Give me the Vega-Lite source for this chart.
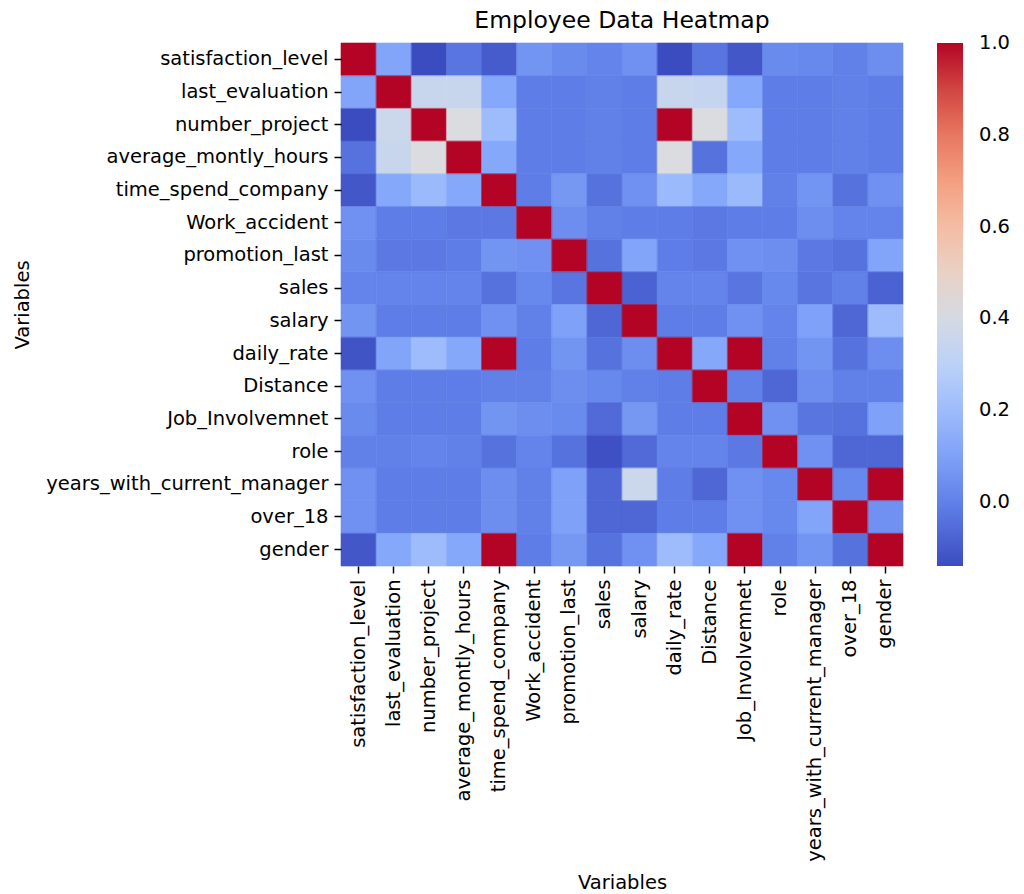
{
  "$schema": "https://vega.github.io/schema/vega-lite/v6.json",
  "width": 562,
  "height": 523,
  "autosize": {"type": "none"},
  "padding": {"left": 341, "top": 43, "right": 121, "bottom": 328},
  "background": "white",
  "title": {
    "text": "Employee Data Heatmap",
    "font": "DejaVu Sans",
    "fontSize": 23.5,
    "fontWeight": "normal",
    "color": "#000000",
    "anchor": "middle",
    "offset": 10
  },
  "datasets": {
    "corr": [
      {"row":"satisfaction_level","col":"satisfaction_level","corr":1},{"row":"satisfaction_level","col":"last_evaluation","corr":0.11},{"row":"satisfaction_level","col":"number_project","corr":-0.14},{"row":"satisfaction_level","col":"average_montly_hours","corr":-0.03},{"row":"satisfaction_level","col":"time_spend_company","corr":-0.1},{"row":"satisfaction_level","col":"Work_accident","corr":0.06},{"row":"satisfaction_level","col":"promotion_last","corr":0.03},{"row":"satisfaction_level","col":"sales","corr":0.01},{"row":"satisfaction_level","col":"salary","corr":0.05},{"row":"satisfaction_level","col":"daily_rate","corr":-0.14},{"row":"satisfaction_level","col":"Distance","corr":-0.03},{"row":"satisfaction_level","col":"Job_Involvemnet","corr":-0.11},{"row":"satisfaction_level","col":"role","corr":0.03},{"row":"satisfaction_level","col":"years_with_current_manager","corr":0.02},{"row":"satisfaction_level","col":"over_18","corr":0.0},{"row":"satisfaction_level","col":"gender","corr":0.04},
      {"row":"last_evaluation","col":"satisfaction_level","corr":0.11},{"row":"last_evaluation","col":"last_evaluation","corr":1},{"row":"last_evaluation","col":"number_project","corr":0.35},{"row":"last_evaluation","col":"average_montly_hours","corr":0.35},{"row":"last_evaluation","col":"time_spend_company","corr":0.12},{"row":"last_evaluation","col":"Work_accident","corr":-0.01},{"row":"last_evaluation","col":"promotion_last","corr":-0.01},{"row":"last_evaluation","col":"sales","corr":0.0},{"row":"last_evaluation","col":"salary","corr":-0.01},{"row":"last_evaluation","col":"daily_rate","corr":0.35},{"row":"last_evaluation","col":"Distance","corr":0.34},{"row":"last_evaluation","col":"Job_Involvemnet","corr":0.12},{"row":"last_evaluation","col":"role","corr":-0.01},{"row":"last_evaluation","col":"years_with_current_manager","corr":-0.01},{"row":"last_evaluation","col":"over_18","corr":0.0},{"row":"last_evaluation","col":"gender","corr":-0.01},
      {"row":"number_project","col":"satisfaction_level","corr":-0.14},{"row":"number_project","col":"last_evaluation","corr":0.36},{"row":"number_project","col":"number_project","corr":1},{"row":"number_project","col":"average_montly_hours","corr":0.42},{"row":"number_project","col":"time_spend_company","corr":0.2},{"row":"number_project","col":"Work_accident","corr":-0.01},{"row":"number_project","col":"promotion_last","corr":-0.01},{"row":"number_project","col":"sales","corr":0.0},{"row":"number_project","col":"salary","corr":-0.01},{"row":"number_project","col":"daily_rate","corr":1},{"row":"number_project","col":"Distance","corr":0.42},{"row":"number_project","col":"Job_Involvemnet","corr":0.2},{"row":"number_project","col":"role","corr":-0.01},{"row":"number_project","col":"years_with_current_manager","corr":-0.01},{"row":"number_project","col":"over_18","corr":0.0},{"row":"number_project","col":"gender","corr":-0.01},
      {"row":"average_montly_hours","col":"satisfaction_level","corr":-0.04},{"row":"average_montly_hours","col":"last_evaluation","corr":0.35},{"row":"average_montly_hours","col":"number_project","corr":0.42},{"row":"average_montly_hours","col":"average_montly_hours","corr":1},{"row":"average_montly_hours","col":"time_spend_company","corr":0.12},{"row":"average_montly_hours","col":"Work_accident","corr":-0.01},{"row":"average_montly_hours","col":"promotion_last","corr":-0.01},{"row":"average_montly_hours","col":"sales","corr":0.0},{"row":"average_montly_hours","col":"salary","corr":-0.01},{"row":"average_montly_hours","col":"daily_rate","corr":0.42},{"row":"average_montly_hours","col":"Distance","corr":-0.04},{"row":"average_montly_hours","col":"Job_Involvemnet","corr":0.12},{"row":"average_montly_hours","col":"role","corr":-0.01},{"row":"average_montly_hours","col":"years_with_current_manager","corr":-0.01},{"row":"average_montly_hours","col":"over_18","corr":0.0},{"row":"average_montly_hours","col":"gender","corr":-0.01},
      {"row":"time_spend_company","col":"satisfaction_level","corr":-0.11},{"row":"time_spend_company","col":"last_evaluation","corr":0.12},{"row":"time_spend_company","col":"number_project","corr":0.19},{"row":"time_spend_company","col":"average_montly_hours","corr":0.12},{"row":"time_spend_company","col":"time_spend_company","corr":1},{"row":"time_spend_company","col":"Work_accident","corr":-0.01},{"row":"time_spend_company","col":"promotion_last","corr":0.07},{"row":"time_spend_company","col":"sales","corr":-0.04},{"row":"time_spend_company","col":"salary","corr":0.05},{"row":"time_spend_company","col":"daily_rate","corr":0.19},{"row":"time_spend_company","col":"Distance","corr":0.12},{"row":"time_spend_company","col":"Job_Involvemnet","corr":0.19},{"row":"time_spend_company","col":"role","corr":0.0},{"row":"time_spend_company","col":"years_with_current_manager","corr":0.06},{"row":"time_spend_company","col":"over_18","corr":-0.04},{"row":"time_spend_company","col":"gender","corr":0.05},
      {"row":"Work_accident","col":"satisfaction_level","corr":0.05},{"row":"Work_accident","col":"last_evaluation","corr":-0.01},{"row":"Work_accident","col":"number_project","corr":-0.01},{"row":"Work_accident","col":"average_montly_hours","corr":-0.02},{"row":"Work_accident","col":"time_spend_company","corr":-0.02},{"row":"Work_accident","col":"Work_accident","corr":1},{"row":"Work_accident","col":"promotion_last","corr":0.04},{"row":"Work_accident","col":"sales","corr":0.0},{"row":"Work_accident","col":"salary","corr":-0.01},{"row":"Work_accident","col":"daily_rate","corr":-0.01},{"row":"Work_accident","col":"Distance","corr":-0.02},{"row":"Work_accident","col":"Job_Involvemnet","corr":-0.01},{"row":"Work_accident","col":"role","corr":-0.01},{"row":"Work_accident","col":"years_with_current_manager","corr":0.04},{"row":"Work_accident","col":"over_18","corr":0.01},{"row":"Work_accident","col":"gender","corr":0.01},
      {"row":"promotion_last","col":"satisfaction_level","corr":0.03},{"row":"promotion_last","col":"last_evaluation","corr":-0.02},{"row":"promotion_last","col":"number_project","corr":-0.02},{"row":"promotion_last","col":"average_montly_hours","corr":-0.01},{"row":"promotion_last","col":"time_spend_company","corr":0.06},{"row":"promotion_last","col":"Work_accident","corr":0.05},{"row":"promotion_last","col":"promotion_last","corr":1},{"row":"promotion_last","col":"sales","corr":-0.04},{"row":"promotion_last","col":"salary","corr":0.11},{"row":"promotion_last","col":"daily_rate","corr":-0.01},{"row":"promotion_last","col":"Distance","corr":-0.02},{"row":"promotion_last","col":"Job_Involvemnet","corr":0.05},{"row":"promotion_last","col":"role","corr":0.04},{"row":"promotion_last","col":"years_with_current_manager","corr":-0.02},{"row":"promotion_last","col":"over_18","corr":-0.04},{"row":"promotion_last","col":"gender","corr":0.11},
      {"row":"sales","col":"satisfaction_level","corr":0.01},{"row":"sales","col":"last_evaluation","corr":0.01},{"row":"sales","col":"number_project","corr":0.01},{"row":"sales","col":"average_montly_hours","corr":0.01},{"row":"sales","col":"time_spend_company","corr":-0.04},{"row":"sales","col":"Work_accident","corr":0.02},{"row":"sales","col":"promotion_last","corr":-0.03},{"row":"sales","col":"sales","corr":1},{"row":"sales","col":"salary","corr":-0.08},{"row":"sales","col":"daily_rate","corr":0.01},{"row":"sales","col":"Distance","corr":0.01},{"row":"sales","col":"Job_Involvemnet","corr":-0.03},{"row":"sales","col":"role","corr":0.02},{"row":"sales","col":"years_with_current_manager","corr":-0.03},{"row":"sales","col":"over_18","corr":0.0},{"row":"sales","col":"gender","corr":-0.08},
      {"row":"salary","col":"satisfaction_level","corr":0.06},{"row":"salary","col":"last_evaluation","corr":-0.01},{"row":"salary","col":"number_project","corr":-0.01},{"row":"salary","col":"average_montly_hours","corr":-0.01},{"row":"salary","col":"time_spend_company","corr":0.05},{"row":"salary","col":"Work_accident","corr":0.0},{"row":"salary","col":"promotion_last","corr":0.1},{"row":"salary","col":"sales","corr":-0.07},{"row":"salary","col":"salary","corr":1},{"row":"salary","col":"daily_rate","corr":-0.01},{"row":"salary","col":"Distance","corr":-0.01},{"row":"salary","col":"Job_Involvemnet","corr":0.05},{"row":"salary","col":"role","corr":0.01},{"row":"salary","col":"years_with_current_manager","corr":0.1},{"row":"salary","col":"over_18","corr":-0.07},{"row":"salary","col":"gender","corr":0.2},
      {"row":"daily_rate","col":"satisfaction_level","corr":-0.12},{"row":"daily_rate","col":"last_evaluation","corr":0.11},{"row":"daily_rate","col":"number_project","corr":0.2},{"row":"daily_rate","col":"average_montly_hours","corr":0.12},{"row":"daily_rate","col":"time_spend_company","corr":1},{"row":"daily_rate","col":"Work_accident","corr":-0.01},{"row":"daily_rate","col":"promotion_last","corr":0.06},{"row":"daily_rate","col":"sales","corr":-0.04},{"row":"daily_rate","col":"salary","corr":0.04},{"row":"daily_rate","col":"daily_rate","corr":1},{"row":"daily_rate","col":"Distance","corr":0.12},{"row":"daily_rate","col":"Job_Involvemnet","corr":1},{"row":"daily_rate","col":"role","corr":0.0},{"row":"daily_rate","col":"years_with_current_manager","corr":0.06},{"row":"daily_rate","col":"over_18","corr":-0.04},{"row":"daily_rate","col":"gender","corr":0.04},
      {"row":"Distance","col":"satisfaction_level","corr":0.05},{"row":"Distance","col":"last_evaluation","corr":-0.01},{"row":"Distance","col":"number_project","corr":-0.01},{"row":"Distance","col":"average_montly_hours","corr":-0.01},{"row":"Distance","col":"time_spend_company","corr":0.0},{"row":"Distance","col":"Work_accident","corr":0.0},{"row":"Distance","col":"promotion_last","corr":0.04},{"row":"Distance","col":"sales","corr":0.02},{"row":"Distance","col":"salary","corr":0.0},{"row":"Distance","col":"daily_rate","corr":-0.01},{"row":"Distance","col":"Distance","corr":1},{"row":"Distance","col":"Job_Involvemnet","corr":0.0},{"row":"Distance","col":"role","corr":-0.07},{"row":"Distance","col":"years_with_current_manager","corr":0.04},{"row":"Distance","col":"over_18","corr":0.0},{"row":"Distance","col":"gender","corr":0.0},
      {"row":"Job_Involvemnet","col":"satisfaction_level","corr":0.03},{"row":"Job_Involvemnet","col":"last_evaluation","corr":-0.01},{"row":"Job_Involvemnet","col":"number_project","corr":-0.01},{"row":"Job_Involvemnet","col":"average_montly_hours","corr":-0.01},{"row":"Job_Involvemnet","col":"time_spend_company","corr":0.06},{"row":"Job_Involvemnet","col":"Work_accident","corr":0.04},{"row":"Job_Involvemnet","col":"promotion_last","corr":0.03},{"row":"Job_Involvemnet","col":"sales","corr":-0.06},{"row":"Job_Involvemnet","col":"salary","corr":0.07},{"row":"Job_Involvemnet","col":"daily_rate","corr":-0.01},{"row":"Job_Involvemnet","col":"Distance","corr":-0.01},{"row":"Job_Involvemnet","col":"Job_Involvemnet","corr":1},{"row":"Job_Involvemnet","col":"role","corr":0.05},{"row":"Job_Involvemnet","col":"years_with_current_manager","corr":-0.03},{"row":"Job_Involvemnet","col":"over_18","corr":-0.04},{"row":"Job_Involvemnet","col":"gender","corr":0.1},
      {"row":"role","col":"satisfaction_level","corr":0.0},{"row":"role","col":"last_evaluation","corr":0.0},{"row":"role","col":"number_project","corr":0.01},{"row":"role","col":"average_montly_hours","corr":0.0},{"row":"role","col":"time_spend_company","corr":-0.04},{"row":"role","col":"Work_accident","corr":0.01},{"row":"role","col":"promotion_last","corr":-0.04},{"row":"role","col":"sales","corr":-0.13},{"row":"role","col":"salary","corr":-0.06},{"row":"role","col":"daily_rate","corr":0.01},{"row":"role","col":"Distance","corr":0.01},{"row":"role","col":"Job_Involvemnet","corr":-0.02},{"row":"role","col":"role","corr":1},{"row":"role","col":"years_with_current_manager","corr":0.05},{"row":"role","col":"over_18","corr":-0.07},{"row":"role","col":"gender","corr":-0.07},
      {"row":"years_with_current_manager","col":"satisfaction_level","corr":0.05},{"row":"years_with_current_manager","col":"last_evaluation","corr":-0.01},{"row":"years_with_current_manager","col":"number_project","corr":-0.01},{"row":"years_with_current_manager","col":"average_montly_hours","corr":-0.01},{"row":"years_with_current_manager","col":"time_spend_company","corr":0.04},{"row":"years_with_current_manager","col":"Work_accident","corr":0.0},{"row":"years_with_current_manager","col":"promotion_last","corr":0.1},{"row":"years_with_current_manager","col":"sales","corr":-0.07},{"row":"years_with_current_manager","col":"salary","corr":0.36},{"row":"years_with_current_manager","col":"daily_rate","corr":-0.01},{"row":"years_with_current_manager","col":"Distance","corr":-0.07},{"row":"years_with_current_manager","col":"Job_Involvemnet","corr":0.05},{"row":"years_with_current_manager","col":"role","corr":0.02},{"row":"years_with_current_manager","col":"years_with_current_manager","corr":1},{"row":"years_with_current_manager","col":"over_18","corr":0.02},{"row":"years_with_current_manager","col":"gender","corr":1},
      {"row":"over_18","col":"satisfaction_level","corr":0.05},{"row":"over_18","col":"last_evaluation","corr":-0.01},{"row":"over_18","col":"number_project","corr":-0.01},{"row":"over_18","col":"average_montly_hours","corr":-0.01},{"row":"over_18","col":"time_spend_company","corr":0.04},{"row":"over_18","col":"Work_accident","corr":0.0},{"row":"over_18","col":"promotion_last","corr":0.1},{"row":"over_18","col":"sales","corr":-0.07},{"row":"over_18","col":"salary","corr":-0.07},{"row":"over_18","col":"daily_rate","corr":-0.01},{"row":"over_18","col":"Distance","corr":-0.01},{"row":"over_18","col":"Job_Involvemnet","corr":0.05},{"row":"over_18","col":"role","corr":0.02},{"row":"over_18","col":"years_with_current_manager","corr":0.11},{"row":"over_18","col":"over_18","corr":1},{"row":"over_18","col":"gender","corr":0.05},
      {"row":"gender","col":"satisfaction_level","corr":-0.11},{"row":"gender","col":"last_evaluation","corr":0.12},{"row":"gender","col":"number_project","corr":0.2},{"row":"gender","col":"average_montly_hours","corr":0.12},{"row":"gender","col":"time_spend_company","corr":1},{"row":"gender","col":"Work_accident","corr":-0.01},{"row":"gender","col":"promotion_last","corr":0.07},{"row":"gender","col":"sales","corr":-0.04},{"row":"gender","col":"salary","corr":0.05},{"row":"gender","col":"daily_rate","corr":0.2},{"row":"gender","col":"Distance","corr":0.12},{"row":"gender","col":"Job_Involvemnet","corr":1},{"row":"gender","col":"role","corr":0.0},{"row":"gender","col":"years_with_current_manager","corr":0.06},{"row":"gender","col":"over_18","corr":-0.04},{"row":"gender","col":"gender","corr":1}
    ]
  },
  "data": {"name": "corr"},
  "encoding": {
    "x": {
      "field": "col",
      "type": "nominal",
      "sort": ["satisfaction_level","last_evaluation","number_project","average_montly_hours","time_spend_company","Work_accident","promotion_last","sales","salary","daily_rate","Distance","Job_Involvemnet","role","years_with_current_manager","over_18","gender"],
      "scale": {"paddingInner": 0, "paddingOuter": 0},
      "axis": {
        "title": "Variables",
        "labelAngle": -90,
        "titleX": 281,
        "titleY": 316,
        "titleBaseline": "middle",
        "titleAlign": "center"
      }
    },
    "y": {
      "field": "row",
      "type": "nominal",
      "sort": ["satisfaction_level","last_evaluation","number_project","average_montly_hours","time_spend_company","Work_accident","promotion_last","sales","salary","daily_rate","Distance","Job_Involvemnet","role","years_with_current_manager","over_18","gender"],
      "scale": {"paddingInner": 0, "paddingOuter": 0},
      "axis": {
        "title": "Variables",
        "titleAngle": -90,
        "titleX": -319,
        "titleY": 261.5,
        "titleBaseline": "middle",
        "titleAlign": "center"
      }
    }
  },
  "layer": [
    {
      "mark": {"type": "rect", "strokeWidth": 0},
      "encoding": {
        "color": {
          "field": "corr",
          "type": "quantitative",
          "scale": {
            "domain": [-0.14, 0.0025, 0.145, 0.2875, 0.43, 0.5725, 0.715, 0.8575, 1.0],
            "range": ["#3b4cc0", "#6282ea", "#8db0fe", "#b8d0f9", "#dddddd", "#f5c4ad", "#f49a7b", "#de604d", "#b40426"],
            "interpolate": "rgb"
          },
          "legend": {
            "title": null,
            "orient": "none",
            "direction": "vertical",
            "legendX": 596,
            "legendY": 0,
            "gradientLength": 523,
            "gradientThickness": 26,
            "gradientStrokeWidth": 0,
            "values": [0, 0.2, 0.4, 0.6, 0.8, 1.0],
            "format": ".1f",
            "labelOffset": 16,
            "labelOverlap": false,
            "labelFont": "DejaVu Sans",
            "labelFontSize": 19.5,
            "labelColor": "#000000",
            "encode": {
              "labels": {"update": {"baseline": {"value": "middle"}}}
            }
          }
        }
      }
    },
    {
      "mark": {"type": "rect", "fillOpacity": 0, "strokeWidth": 0.6},
      "encoding": {
        "stroke": {
          "field": "corr",
          "type": "quantitative",
          "scale": {
            "domain": [-0.14, 0.0025, 0.145, 0.2875, 0.43, 0.5725, 0.715, 0.8575, 1.0],
            "range": ["#3b4cc0", "#6282ea", "#8db0fe", "#b8d0f9", "#dddddd", "#f5c4ad", "#f49a7b", "#de604d", "#b40426"],
            "interpolate": "rgb"
          },
          "legend": null
        }
      }
    }
  ],
  "resolve": {"scale": {"stroke": "independent"}, "legend": {"stroke": "independent"}},
  "config": {
    "view": {"stroke": null},
    "axis": {
      "domain": false,
      "grid": false,
      "labelFont": "DejaVu Sans",
      "labelFontSize": 19.5,
      "labelLimit": 0,
      "labelColor": "#000000",
      "labelPadding": 6,
      "tickColor": "#000000",
      "tickSize": 7,
      "tickWidth": 1.5,
      "titleFont": "DejaVu Sans",
      "titleFontSize": 19.5,
      "titleFontWeight": "normal",
      "titleColor": "#000000"
    }
  }
}
